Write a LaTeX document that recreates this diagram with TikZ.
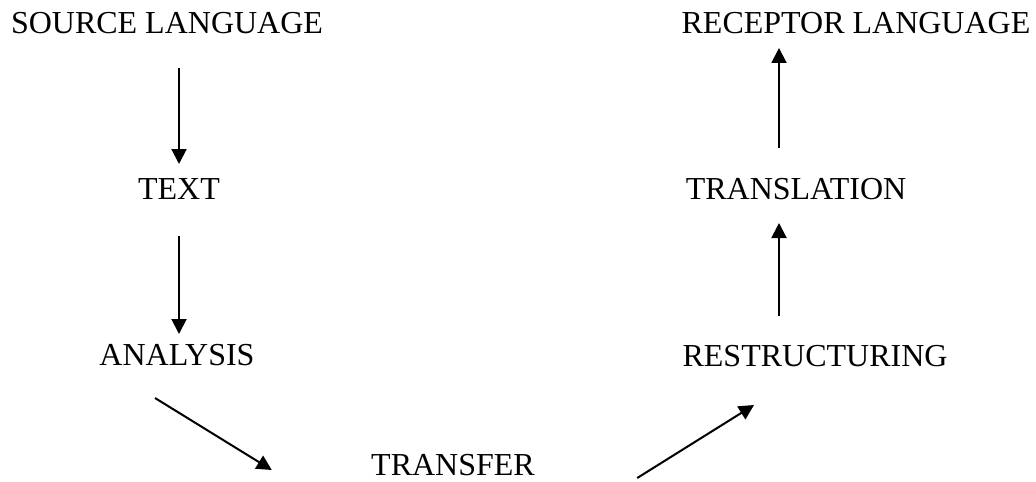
\documentclass[tikz,border=0pt]{standalone}
\usepackage{fontspec}
\setmainfont{Liberation Serif}
\usepackage{tikz}
\usetikzlibrary{arrows.meta,positioning}

\begin{document}
\begin{tikzpicture}[x=0.5pt,y=-0.5pt,
    stage/.style={inner sep=0pt,text height=10.6pt,text depth=0pt,font=\fontsize{16}{19}\selectfont},
    arr/.style={line width=1pt,-{Triangle[length=7.5pt,width=7.5pt]}}]
    \useasboundingbox (0,0) rectangle (1036,481);
    \node[stage] (src) at (167,23) {SOURCE LANGUAGE};
    \node[stage] (txt) at (179,189) {TEXT};
    \node[stage] (ana) at (177,355) {ANALYSIS};
    \node[stage] (trf) at (453,465) {TRANSFER};
    \node[stage] (rst) at (815,356) {RESTRUCTURING};
    \node[stage] (trl) at (796,189) {TRANSLATION};
    \node[stage] (rcp) at (856,23) {RECEPTOR LANGUAGE};
    \draw[arr,shorten <=17pt,shorten >=7pt] (txt.north |- src.south) -- (txt.north);
    \draw[arr,shorten <=18pt,shorten >=5pt] (txt.south) -- (txt.south |- ana.north);
    \draw[arr] ([xshift=-11pt,yshift=-16pt]ana.south) -- ([xshift=-49.5pt,yshift=-2.5pt]trf.west);
    \draw[arr] ([xshift=51pt,yshift=-6.5pt]trf.east) -- ([xshift=-30.5pt,yshift=-19pt]rst.south);
    \draw[arr,shorten <=14.5pt,shorten >=11.5pt] ([xshift=-8.5pt]trl.south |- rst.north) -- ([xshift=-8.5pt]trl.south);
    \draw[arr,shorten <=15pt,shorten >=7pt] ([xshift=-8.5pt]trl.north) -- ([xshift=-8.5pt]trl.north |- rcp.south);
\end{tikzpicture}
\end{document}
